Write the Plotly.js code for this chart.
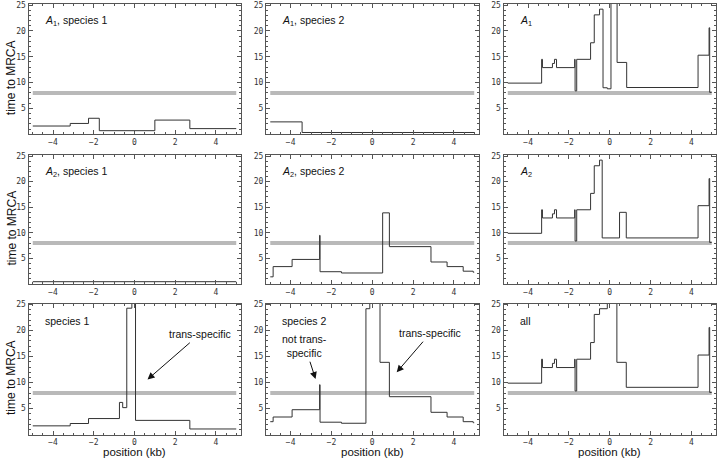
<!DOCTYPE html>
<html>
<head>
<meta charset="utf-8">
<script src="https://cdn.plot.ly/plotly-3.0.1.min.js"></script>
<style>html,body{margin:0;padding:0;background:#fff;}#chart{width:720px;height:466px;}</style>
</head>
<body>
<div id="chart"></div>
<script>
// ---- data (step functions: breakpoints and value on each interval) ----
const threshold = 8;
const thresholdX = [-5, 5];

const a1sp1X = [-5, -3.16, -2.26, -1.73, 1.0, 2.72, 5];
const a1sp1Y = [1.6, 2.1, 3.1, 0.7, 2.75, 1.1];

const a1sp2X = [-5, -3.44, 5];
const a1sp2Y = [2.4, 0.35];

const a1X = [-5, -3.34, -3.30, -2.81, -2.71, -2.61, -1.72, -1.70, -1.62, -0.94, -0.76, -0.50, -0.33, -0.12, 0.06, 0.36, 0.83, 4.33, 4.87, 4.90, 5];
const a1Y = [9.9, 14.5, 12.9, 13.7, 14.5, 12.9, 14.5, 8.4, 14.5, 17.7, 23.1, 24.2, 9.0, 8.8, 30, 13.9, 9.05, 15.3, 20.6, 8.1];

const a2sp1X = [-5, 5];
const a2sp1Y = [0.45];

const a2sp2X = [-5, -4.86, -3.93, -2.58, -2.56, -1.51, 0.51, 0.84, 2.88, 3.67, 4.46, 4.95, 5];
const a2sp2Y = [1.4, 3.4, 4.8, 9.5, 2.4, 2.15, 13.9, 7.3, 4.3, 3.4, 2.5, 2.3];

const a2X = [-5, -3.34, -3.30, -2.81, -2.71, -2.61, -1.72, -1.70, -1.62, -0.94, -0.76, -0.50, -0.37, 0.48, 0.81, 4.33, 4.87, 4.90, 5];
const a2Y = [9.9, 14.5, 12.9, 13.7, 14.5, 12.9, 14.5, 8.4, 14.5, 17.7, 23.1, 24.2, 9.0, 14.0, 9.0, 15.3, 20.6, 8.1];

const sp1X = [-5, -3.16, -2.26, -0.74, -0.58, -0.38, -0.13, 0.05, 2.72, 5];
const sp1Y = [1.7, 2.15, 3.1, 6.2, 5.2, 24.3, 30, 2.75, 1.1];

const sp2X = [-5, -4.86, -3.93, -2.58, -2.56, -1.51, -0.31, -0.12, 0.38, 0.84, 2.88, 3.67, 4.46, 4.95, 5];
const sp2Y = [2.5, 3.4, 4.8, 9.6, 2.4, 2.2, 24.2, 30, 13.9, 7.3, 4.3, 3.4, 2.5, 2.3];

const allX = [-5, -3.34, -3.30, -2.81, -2.71, -2.61, -1.72, -1.70, -1.62, -0.94, -0.76, -0.50, -0.12, 0.35, 0.81, 4.33, 4.87, 4.90, 5];
const allY = [9.9, 14.5, 12.9, 13.7, 14.5, 12.9, 14.5, 8.4, 14.5, 17.7, 23.1, 24.2, 30, 13.9, 9.1, 15.3, 20.6, 8.1];

const panelLabels = [
  '<i>A</i><sub>1</sub>, species 1', '<i>A</i><sub>1</sub>, species 2', '<i>A</i><sub>1</sub>',
  '<i>A</i><sub>2</sub>, species 1', '<i>A</i><sub>2</sub>, species 2', '<i>A</i><sub>2</sub>',
  'species 1', 'species 2', 'all'
];
const xTickVals = [-4, -2, 0, 2, 4];
const yTickVals = [5, 10, 15, 20, 25];
const xTitle = 'position (kb)';
const yTitle = 'time to MRCA';

const series = [
  [a1sp1X, a1sp1Y], [a1sp2X, a1sp2Y], [a1X, a1Y],
  [a2sp1X, a2sp1Y], [a2sp2X, a2sp2Y], [a2X, a2Y],
  [sp1X, sp1Y], [sp2X, sp2Y], [allX, allY]
];

// ---- layout geometry (pixels of the 720x466 page) ----
const W = 720, H = 466;
const colPx = [[28.5, 240.5], [266, 478.5], [503.5, 716]];
const rowPx = [[4, 134.3], [155, 284], [303.5, 434.7]];

const traces = [];
const layout = {
  width: W, height: H,
  margin: {l: 0, r: 0, t: 0, b: 0},
  paper_bgcolor: '#fff', plot_bgcolor: '#fff',
  showlegend: false,
  font: {family: 'Liberation Sans, Arial, sans-serif', color: '#222'},
  annotations: []
};

const axColor = '#555';
function axisBase() {
  return {
    showline: true, linecolor: axColor, linewidth: 1, mirror: 'allticks',
    ticks: 'inside', ticklen: 4, tickcolor: axColor, tickwidth: 1,
    showgrid: false, zeroline: false,
    tickfont: {family: 'DejaVu Sans Mono, monospace', size: 8, color: '#333'},
    fixedrange: true
  };
}

function stepY(vals) { return vals.concat([vals[vals.length - 1]]); }

for (let i = 0; i < 9; i++) {
  const r = Math.floor(i / 3), c = i % 3;
  const n = i + 1;
  const xa = n === 1 ? 'x' : 'x' + n;
  const ya = n === 1 ? 'y' : 'y' + n;
  const xk = n === 1 ? 'xaxis' : 'xaxis' + n;
  const yk = n === 1 ? 'yaxis' : 'yaxis' + n;
  layout[xk] = Object.assign(axisBase(), {
    domain: [colPx[c][0] / W, colPx[c][1] / W],
    anchor: ya,
    range: [-5.21, 5.21],
    tickmode: 'array', tickvals: xTickVals, ticktext: xTickVals.map(v => v < 0 ? '\u2212' + Math.abs(v) : String(v)),
    ticklabelstandoff: 0,
    minor: {ticks: 'inside', ticklen: 2, dtick: 0.5, tick0: 0, tickcolor: axColor}
  });
  layout[yk] = Object.assign(axisBase(), {
    domain: [1 - rowPx[r][1] / H, 1 - rowPx[r][0] / H],
    anchor: xa,
    range: [0, 25.2],
    tickmode: 'array', tickvals: yTickVals,
    minor: {ticks: 'inside', ticklen: 2, dtick: 1, tick0: 0, tickcolor: axColor}
  });
  traces.push({
    x: thresholdX, y: [threshold, threshold], xaxis: xa, yaxis: ya,
    mode: 'lines', line: {color: '#b9b9b9', width: 4}, hoverinfo: 'skip'
  });
  traces.push({
    x: series[i][0], y: stepY(series[i][1]), xaxis: xa, yaxis: ya,
    mode: 'lines', line: {color: '#333', width: 1, shape: 'hv'}, hoverinfo: 'skip'
  });
  layout.annotations.push({
    xref: 'paper', yref: 'paper',
    x: (colPx[c][0] + 14) / W, y: 1 - (rowPx[r][0] + 17) / H,
    xanchor: 'left', yanchor: 'middle', showarrow: false,
    text: panelLabels[i], font: {size: 10.5, color: '#111'}
  });
}

// axis titles
for (let r = 0; r < 3; r++) {
  layout.annotations.push({
    xref: 'paper', yref: 'paper', x: 11 / W, y: 1 - ((rowPx[r][0] + rowPx[r][1]) / 2 + 9) / H,
    xanchor: 'center', yanchor: 'middle', textangle: -90, showarrow: false,
    text: yTitle, font: {size: 12, color: '#111'}
  });
}
for (let c = 0; c < 3; c++) {
  layout.annotations.push({
    xref: 'paper', yref: 'paper', x: ((colPx[c][0] + colPx[c][1]) / 2) / W, y: 1 - 452 / H,
    xanchor: 'center', yanchor: 'middle', showarrow: false,
    text: xTitle, font: {size: 11.5, color: '#111'}
  });
}

// labelled arrows: text sits at (lx, ly), arrow head at (x, y)
const arrows = [
  {xa: 'x7', ya: 'y7', x: 0.64, y: 10.6, label: 'trans-specific', lx: 3.2, ly: 19.3},
  {xa: 'x8', ya: 'y8', x: 1.2, y: 12.0, label: 'trans-specific', lx: 2.85, ly: 19.5},
  {xa: 'x8', ya: 'y8', x: -2.78, y: 10.7, label: 'not trans-<br>specific', lx: -3.3, ly: 17.0}
];
arrows.forEach(a => {
  layout.annotations.push({
    xref: a.xa, yref: a.ya, x: a.x, y: a.y, axref: a.xa, ayref: a.ya, ax: a.lx, ay: a.ly,
    showarrow: true, arrowhead: 2, arrowsize: 1.4, arrowwidth: 1, arrowcolor: '#111',
    text: a.label, font: {size: 10.5, color: '#111'}, borderpad: 2
  });
});

Plotly.newPlot('chart', traces, layout, {staticPlot: true, displayModeBar: false});
</script>
</body>
</html>
